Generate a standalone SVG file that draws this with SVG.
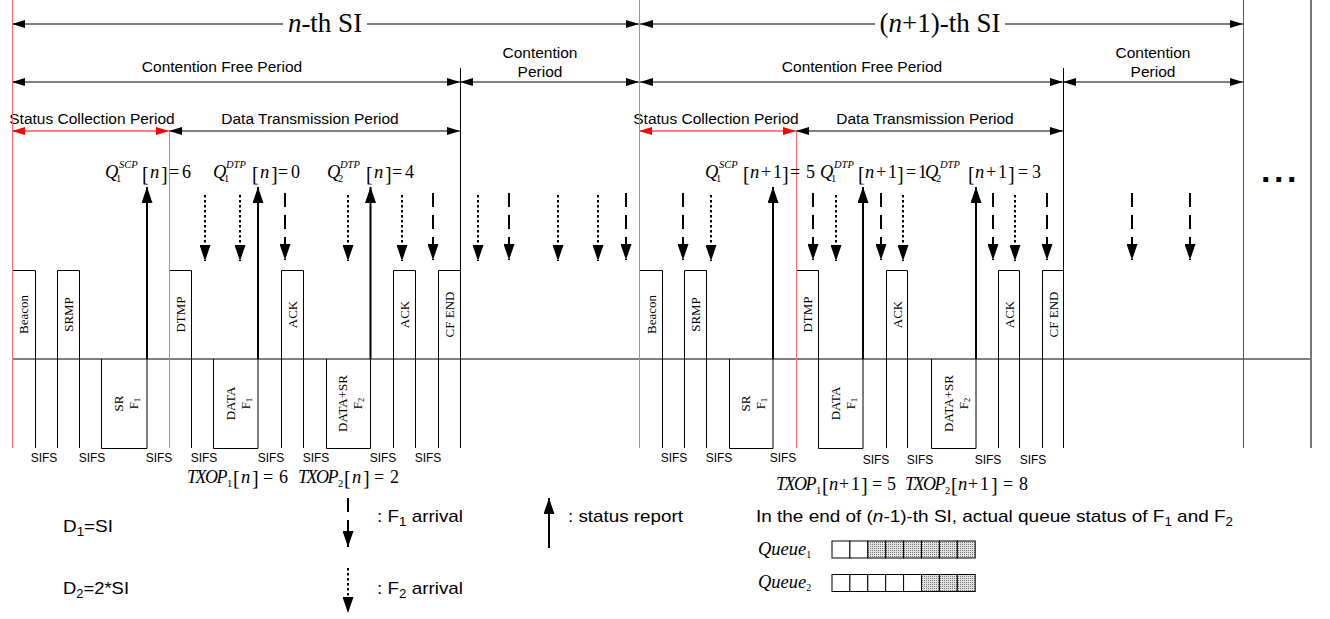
<svg xmlns="http://www.w3.org/2000/svg" width="1330" height="619" viewBox="0 0 1330 619">
<defs>
<style>
.sans{font-family:"Liberation Sans",Arial,sans-serif}
.serif{font-family:"Liberation Serif","Times New Roman",serif}
.per{font-family:"Liberation Sans",Arial,sans-serif;font-size:15.5px;text-anchor:middle}
.sifs{font-family:"Liberation Sans",Arial,sans-serif;font-size:12px;text-anchor:middle}
.si{font-family:"Liberation Serif","Times New Roman",serif;font-size:27px;text-anchor:middle}
.fr{fill:none;stroke:#000;stroke-width:1}
.fl{font-family:"Liberation Serif","Times New Roman",serif;font-size:13px;text-anchor:middle}
.dim{fill:none;stroke:#000;stroke-width:1}
.rdim{fill:none;stroke:#f00;stroke-width:1}
.ln{fill:none;stroke:#000;stroke-width:1}
.redl{fill:none;stroke:#ff6b6b;stroke-width:1}
.up{fill:none;stroke:#000;stroke-width:2;marker-end:url(#av)}
.f1{fill:none;stroke:#000;stroke-width:2;stroke-dasharray:14 8;marker-end:url(#av)}
.f2{fill:none;stroke:#000;stroke-width:2;stroke-dasharray:2.5 2.5;marker-end:url(#av)}
.m{font-family:"Liberation Serif","Times New Roman",serif;font-size:18px}
.mi{font-family:"Liberation Serif","Times New Roman",serif;font-size:18.5px;font-style:italic}
.ms{font-family:"Liberation Serif","Times New Roman",serif;font-size:10.5px}
.msi{font-family:"Liberation Serif","Times New Roman",serif;font-size:10.5px;font-style:italic}
.mb{font-family:"Liberation Serif","Times New Roman",serif;font-size:20px}
.tb{font-family:"Liberation Serif","Times New Roman",serif;font-size:20px}
.tx{font-family:"Liberation Serif","Times New Roman",serif;font-size:18px;font-style:italic;letter-spacing:-1.5px}
.lg{font-family:"Liberation Sans",Arial,sans-serif;font-size:17px}
.cell{fill:#fff;stroke:#000;stroke-width:1}
.dot{fill:url(#stip);stroke:#000;stroke-width:1}
</style>
<marker id="ah" viewBox="0 0 13 8" refX="13" refY="4" markerWidth="13" markerHeight="8" markerUnits="userSpaceOnUse" orient="auto-start-reverse"><path d="M0,0 L13,4 L0,8 z" fill="#000"/></marker>
<marker id="ahr" viewBox="0 0 13 8" refX="13" refY="4" markerWidth="13" markerHeight="8" markerUnits="userSpaceOnUse" orient="auto-start-reverse"><path d="M0,0 L13,4 L0,8 z" fill="#f00"/></marker>
<marker id="av" viewBox="0 0 16 11" refX="16" refY="5.5" markerWidth="16" markerHeight="11" markerUnits="userSpaceOnUse" orient="auto"><path d="M0,0 L16,5.5 L0,11 z" fill="#000"/></marker>
<pattern id="stip" width="2" height="2" patternUnits="userSpaceOnUse"><rect width="2" height="2" fill="#e2e2e2"/><rect width="1" height="1" fill="#7a7a7a"/></pattern>
</defs>
<rect width="1330" height="619" fill="#fff"/>

<!-- period dimension lines -->
<g id="periods">
  <path class="dim" d="M12,24 H283" marker-start="url(#ah)"/>
  <path class="dim" d="M367,24 H639" marker-end="url(#ah)"/>
  <text class="si" x="325" y="32"><tspan font-style="italic">n</tspan>-th SI</text>
  <path class="dim" d="M640,24 H875" marker-start="url(#ah)"/>
  <path class="dim" d="M1005,24 H1243" marker-end="url(#ah)"/>
  <text class="si" x="940" y="32">(<tspan font-style="italic">n</tspan>+1)-th SI</text>

  <path class="dim" d="M12,82 H460" marker-start="url(#ah)" marker-end="url(#ah)"/>
  <text class="per" x="222" y="72">Contention Free Period</text>
  <path class="dim" d="M460,82 H639" marker-start="url(#ah)" marker-end="url(#ah)"/>
  <text class="per" x="540" y="58">Contention</text>
  <text class="per" x="540" y="77">Period</text>
  <path class="dim" d="M640,82 H1063" marker-start="url(#ah)" marker-end="url(#ah)"/>
  <text class="per" x="862" y="72">Contention Free Period</text>
  <path class="dim" d="M1063,82 H1243" marker-start="url(#ah)" marker-end="url(#ah)"/>
  <text class="per" x="1153" y="58">Contention</text>
  <text class="per" x="1153" y="77">Period</text>

  <path class="rdim" d="M12,131 H169" marker-start="url(#ahr)" marker-end="url(#ahr)"/>
  <text class="per" x="92" y="124">Status Collection Period</text>
  <path class="dim" d="M169,131 H460" marker-start="url(#ah)" marker-end="url(#ah)"/>
  <text class="per" x="310" y="124">Data Transmission Period</text>
  <path class="rdim" d="M639,131 H796" marker-start="url(#ahr)" marker-end="url(#ahr)"/>
  <text class="per" x="716" y="124">Status Collection Period</text>
  <path class="dim" d="M796,131 H1063" marker-start="url(#ah)" marker-end="url(#ah)"/>
  <text class="per" x="925" y="124">Data Transmission Period</text>
</g>

<!-- boundaries and time axis -->
<g id="axis">
  <path class="ln" d="M12,359 H1311"/>
  <path class="ln" d="M460.5,68 V448 M1063.5,68 V448"/>
  <path d="M1243.5,0 V448" stroke="#555" stroke-width="1" fill="none"/>
  <path d="M1311,0 V448" stroke="#777" stroke-width="2" fill="none"/>
  <path class="ln" d="M35.5,359 V448 M57.5,359 V448 M79.5,359 V448 M191.5,359 V448 M281.5,359 V448 M303.5,359 V448 M393.5,359 V448 M415.5,359 V448 M438.5,359 V448"/>
  <path class="ln" d="M662.5,359 V448 M684.5,359 V448 M706.5,359 V448 M886.5,359 V448 M907.5,359 V448 M998.5,359 V448 M1019.5,359 V448 M1042.5,359 V448"/>
  <text class="sifs" x="44" y="462">SIFS</text>
  <text class="sifs" x="92" y="462">SIFS</text>
  <text class="sifs" x="159" y="462">SIFS</text>
  <text class="sifs" x="204" y="462">SIFS</text>
  <text class="sifs" x="271" y="462">SIFS</text>
  <text class="sifs" x="316" y="462">SIFS</text>
  <text class="sifs" x="383" y="462">SIFS</text>
  <text class="sifs" x="428" y="462">SIFS</text>
  <text class="sifs" x="674" y="462">SIFS</text>
  <text class="sifs" x="719" y="462">SIFS</text>
  <text class="sifs" x="783" y="462">SIFS</text>
  <text class="sifs" x="876" y="464">SIFS</text>
  <text class="sifs" x="920" y="464">SIFS</text>
  <text class="sifs" x="988" y="464">SIFS</text>
  <text class="sifs" x="1033" y="464">SIFS</text>
</g>

<!-- frames of the n-th SI -->
<g id="beacon1"><path class="fr" d="M12.5,448 V270.5 H35.5 V448"/><text class="fl" transform="translate(23.5,314.5) rotate(-90)" y="4.5">Beacon</text></g>
<g id="srmp1"><path class="fr" d="M57.5,448 V270.5 H79.5 V448"/><text class="fl" transform="translate(68.5,314.5) rotate(-90)" y="4.5">SRMP</text></g>
<g id="sr1"><path class="fr" d="M101.5,359 V448.5 H147 V359"/><text class="fl" transform="translate(124,403.5) rotate(-90)"><tspan x="0" y="-1">SR</tspan><tspan x="0" y="14">F<tspan font-size="9" dy="2">1</tspan></tspan></text></g>
<g id="dtmp1"><path class="fr" d="M169.5,448 V270.5 H191.5 V448"/><text class="fl" transform="translate(180.5,314.5) rotate(-90)" y="4.5">DTMP</text></g>
<g id="data1"><path class="fr" d="M213.5,359 V448.5 H258 V359"/><text class="fl" transform="translate(235.5,403.5) rotate(-90)"><tspan x="0" y="-1">DATA</tspan><tspan x="0" y="14">F<tspan font-size="9" dy="2">1</tspan></tspan></text></g>
<g id="ack1a"><path class="fr" d="M281.5,448 V270.5 H303.5 V448"/><text class="fl" transform="translate(292.5,314.5) rotate(-90)" y="4.5">ACK</text></g>
<g id="datasr1"><path class="fr" d="M326.5,359 V448.5 H370.5 V359"/><text class="fl" transform="translate(348,403.5) rotate(-90)"><tspan x="0" y="-1">DATA+SR</tspan><tspan x="0" y="14">F<tspan font-size="9" dy="2">2</tspan></tspan></text></g>
<g id="ack1b"><path class="fr" d="M393.5,448 V270.5 H415.5 V448"/><text class="fl" transform="translate(404.5,314.5) rotate(-90)" y="4.5">ACK</text></g>
<g id="cfend1"><path class="fr" d="M438.5,448 V270.5 H460.5 V448"/><text class="fl" transform="translate(449.5,314.5) rotate(-90)" y="4.5">CF END</text></g>

<!-- frames of the (n+1)-th SI -->
<g id="beacon2"><path class="fr" d="M639.5,448 V270.5 H662.5 V448"/><text class="fl" transform="translate(651,314.5) rotate(-90)" y="4.5">Beacon</text></g>
<g id="srmp2"><path class="fr" d="M684.5,448 V270.5 H706.5 V448"/><text class="fl" transform="translate(695.5,314.5) rotate(-90)" y="4.5">SRMP</text></g>
<g id="sr2"><path class="fr" d="M729.5,359 V448.5 H773 V359"/><text class="fl" transform="translate(751,403.5) rotate(-90)"><tspan x="0" y="-1">SR</tspan><tspan x="0" y="14">F<tspan font-size="9" dy="2">1</tspan></tspan></text></g>
<g id="dtmp2"><path class="fr" d="M796.5,448 V270.5 H818.5 V448"/><text class="fl" transform="translate(807.5,314.5) rotate(-90)" y="4.5">DTMP</text></g>
<g id="data2"><path class="fr" d="M818.5,359 V448.5 H863 V359"/><text class="fl" transform="translate(840.5,403.5) rotate(-90)"><tspan x="0" y="-1">DATA</tspan><tspan x="0" y="14">F<tspan font-size="9" dy="2">1</tspan></tspan></text></g>
<g id="ack2a"><path class="fr" d="M886.5,448 V270.5 H907.5 V448"/><text class="fl" transform="translate(897,314.5) rotate(-90)" y="4.5">ACK</text></g>
<g id="datasr2"><path class="fr" d="M931.5,359 V448.5 H976 V359"/><text class="fl" transform="translate(953.5,403.5) rotate(-90)"><tspan x="0" y="-1">DATA+SR</tspan><tspan x="0" y="14">F<tspan font-size="9" dy="2">2</tspan></tspan></text></g>
<g id="ack2b"><path class="fr" d="M998.5,448 V270.5 H1019.5 V448"/><text class="fl" transform="translate(1009,314.5) rotate(-90)" y="4.5">ACK</text></g>
<g id="cfend2"><path class="fr" d="M1042.5,448 V270.5 H1063.5 V448"/><text class="fl" transform="translate(1053,314.5) rotate(-90)" y="4.5">CF END</text></g>

<!-- SI boundaries (red) -->
<g id="boundaries">
  <path class="redl" d="M12.5,0 V448 M169.5,131 V448 M639.5,0 V448 M796.5,131 V448"/>
</g>

<!-- arrivals and status reports -->
<g id="connectors">
  <path class="up" d="M147,359 V187"/>
  <path class="up" d="M258,359 V187"/>
  <path class="up" d="M370.5,359 V187"/>
  <path class="up" d="M773,359 V187"/>
  <path class="up" d="M863,359 V187"/>
  <path class="up" d="M976,359 V187"/>
  <path class="f1" d="M285,193 V260"/>
  <path class="f1" d="M433,193 V260"/>
  <path class="f1" d="M509,193 V260"/>
  <path class="f1" d="M626,193 V260"/>
  <path class="f1" d="M683,193 V260"/>
  <path class="f1" d="M813,193 V260"/>
  <path class="f1" d="M881,193 V260"/>
  <path class="f1" d="M993,193 V260"/>
  <path class="f1" d="M1047,193 V260"/>
  <path class="f1" d="M1132,193 V260"/>
  <path class="f1" d="M1190,193 V260"/>
  <path class="f2" d="M205,195 V261"/>
  <path class="f2" d="M240,195 V261"/>
  <path class="f2" d="M348,195 V261"/>
  <path class="f2" d="M402,195 V261"/>
  <path class="f2" d="M478,195 V261"/>
  <path class="f2" d="M558,195 V261"/>
  <path class="f2" d="M598,195 V261"/>
  <path class="f2" d="M711,195 V261"/>
  <path class="f2" d="M836,195 V261"/>
  <path class="f2" d="M903,195 V261"/>
  <path class="f2" d="M1015,195 V261"/>
</g>

<!-- queue values reported -->
<g id="q-n">
  <text class="mi" x="105" y="178">Q</text><text class="ms" x="116" y="182">1</text><text class="msi" x="119" y="168">SCP</text>
  <text class="mb" x="142" y="181">[</text><text class="mi" x="150" y="178">n</text><text class="mb" x="161" y="181">]</text>
  <text class="m" x="169" y="178">=</text><text class="m" x="182" y="178">6</text>

  <text class="mi" x="213" y="178">Q</text><text class="ms" x="224" y="182">1</text><text class="msi" x="226" y="168">DTP</text>
  <text class="mb" x="252" y="181">[</text><text class="mi" x="260" y="178">n</text><text class="mb" x="271" y="181">]</text>
  <text class="m" x="278" y="178">=</text><text class="m" x="291" y="178">0</text>

  <text class="mi" x="327" y="178">Q</text><text class="ms" x="338" y="182">2</text><text class="msi" x="340" y="168">DTP</text>
  <text class="mb" x="366" y="181">[</text><text class="mi" x="374" y="178">n</text><text class="mb" x="385" y="181">]</text>
  <text class="m" x="392" y="178">=</text><text class="m" x="405" y="178">4</text>
</g>
<g id="q-n1">
  <text class="mi" x="705" y="178">Q</text><text class="ms" x="716" y="182">1</text><text class="msi" x="719" y="168">SCP</text>
  <text class="mb" x="743" y="181">[</text><text class="mi" x="750" y="178">n</text><text class="m" x="761" y="178">+</text><text class="m" x="773" y="178">1</text><text class="mb" x="782" y="181">]</text>
  <text class="m" x="790" y="178">=</text><text class="m" x="806" y="178">5</text>

  <text class="mi" x="820" y="178">Q</text><text class="ms" x="831" y="182">1</text><text class="msi" x="834" y="168">DTP</text>
  <text class="mb" x="858" y="181">[</text><text class="mi" x="865" y="178">n</text><text class="m" x="876" y="178">+</text><text class="m" x="888" y="178">1</text><text class="mb" x="897" y="181">]</text>
  <text class="m" x="906" y="178">=</text><text class="m" x="918" y="178">1</text>

  <text class="mi" x="925" y="178">Q</text><text class="ms" x="936" y="182">2</text><text class="msi" x="940" y="168">DTP</text>
  <text class="mb" x="968" y="181">[</text><text class="mi" x="975" y="178">n</text><text class="m" x="986" y="178">+</text><text class="m" x="998" y="178">1</text><text class="mb" x="1008" y="181">]</text>
  <text class="m" x="1018" y="178">=</text><text class="m" x="1032" y="178">3</text>
</g>

<!-- transmission opportunities -->
<g id="txop-n">
  <text class="tx" x="187" y="483">TXOP</text><text class="ms" x="227" y="487">1</text>
  <text class="tb" x="233" y="485">[</text><text class="mi" x="241" y="483">n</text><text class="tb" x="252" y="485">]</text>
  <text class="m" x="263" y="483">=</text><text class="m" x="279" y="483">6</text>
  <text class="tx" x="298" y="483">TXOP</text><text class="ms" x="338" y="487">2</text>
  <text class="tb" x="344" y="485">[</text><text class="mi" x="352" y="483">n</text><text class="tb" x="363" y="485">]</text>
  <text class="m" x="374" y="483">=</text><text class="m" x="390" y="483">2</text>
</g>
<g id="txop-n1">
  <text class="tx" x="776" y="490">TXOP</text><text class="ms" x="816" y="494">1</text>
  <text class="tb" x="822" y="492">[</text><text class="mi" x="829" y="490">n</text><text class="m" x="839" y="490">+</text><text class="m" x="851" y="490">1</text><text class="tb" x="861" y="492">]</text>
  <text class="m" x="872" y="490">=</text><text class="m" x="887" y="490">5</text>
  <text class="tx" x="905" y="490">TXOP</text><text class="ms" x="945" y="494">2</text>
  <text class="tb" x="951" y="492">[</text><text class="mi" x="958" y="490">n</text><text class="m" x="968" y="490">+</text><text class="m" x="980" y="490">1</text><text class="tb" x="991" y="492">]</text>
  <text class="m" x="1003" y="490">=</text><text class="m" x="1019" y="490">8</text>
</g>

<!-- continuation -->
<text id="more" x="1261" y="182" font-family="Liberation Sans,Arial,sans-serif" font-weight="bold" font-size="34" letter-spacing="3.5">...</text>

<!-- legend -->
<g id="legend">
  <text class="lg" x="63" y="532" textLength="50" lengthAdjust="spacingAndGlyphs">D<tspan font-size="12" dy="4">1</tspan><tspan dy="-4">=SI</tspan></text>
  <text class="lg" x="63" y="594" textLength="66" lengthAdjust="spacingAndGlyphs">D<tspan font-size="12" dy="4">2</tspan><tspan dy="-4">=2*SI</tspan></text>
  <path class="f1" d="M348,498 V547"/>
  <text class="lg" x="377" y="522" textLength="86" lengthAdjust="spacingAndGlyphs">: F<tspan font-size="12" dy="4">1</tspan><tspan dy="-4"> arrival</tspan></text>
  <path class="f2" d="M348,568 V613"/>
  <text class="lg" x="377" y="594" textLength="86" lengthAdjust="spacingAndGlyphs">: F<tspan font-size="12" dy="4">2</tspan><tspan dy="-4"> arrival</tspan></text>
  <path class="up" d="M549,548 V498"/>
  <text class="lg" x="568" y="522" textLength="115" lengthAdjust="spacingAndGlyphs">: status report</text>
  <text class="lg" x="756" y="522" textLength="477" lengthAdjust="spacingAndGlyphs">In the end of (<tspan font-style="italic">n</tspan>-1)-th SI, actual queue status of F<tspan font-size="12" dy="4">1</tspan><tspan dy="-4"> and F</tspan><tspan font-size="12" dy="4">2</tspan></text>
</g>

<g id="queue1">
  <text class="mi" x="758" y="555" font-size="17">Queue<tspan font-size="10" font-style="normal" dy="3">1</tspan></text>
  <rect class="cell" x="832" y="541" width="17.9" height="17"/>
  <rect class="cell" x="849.9" y="541" width="17.9" height="17"/>
  <rect class="dot" x="867.8" y="541" width="17.9" height="17"/>
  <rect class="dot" x="885.7" y="541" width="17.9" height="17"/>
  <rect class="dot" x="903.6" y="541" width="17.9" height="17"/>
  <rect class="dot" x="921.5" y="541" width="17.9" height="17"/>
  <rect class="dot" x="939.4" y="541" width="17.9" height="17"/>
  <rect class="dot" x="957.3" y="541" width="17.9" height="17"/>
</g>
<g id="queue2">
  <text class="mi" x="758" y="588" font-size="17">Queue<tspan font-size="10" font-style="normal" dy="3">2</tspan></text>
  <rect class="cell" x="832" y="574.5" width="17.9" height="17"/>
  <rect class="cell" x="849.9" y="574.5" width="17.9" height="17"/>
  <rect class="cell" x="867.8" y="574.5" width="17.9" height="17"/>
  <rect class="cell" x="885.7" y="574.5" width="17.9" height="17"/>
  <rect class="cell" x="903.6" y="574.5" width="17.9" height="17"/>
  <rect class="dot" x="921.5" y="574.5" width="17.9" height="17"/>
  <rect class="dot" x="939.4" y="574.5" width="17.9" height="17"/>
  <rect class="dot" x="957.3" y="574.5" width="17.9" height="17"/>
</g>
</svg>
